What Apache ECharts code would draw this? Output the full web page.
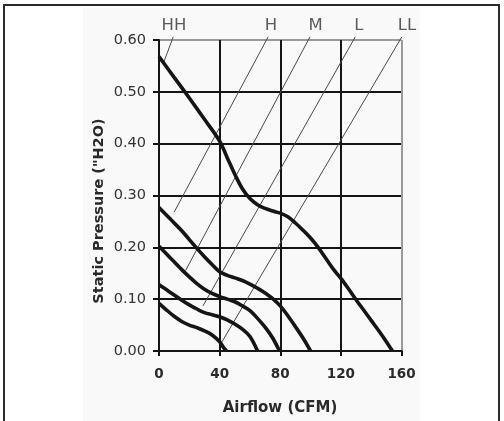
<!DOCTYPE html>
<html><head><meta charset="utf-8">
<script src="https://cdn.jsdelivr.net/npm/echarts@6/dist/echarts.min.js"></script>
<style>html,body{margin:0;padding:0;background:#fff}#c{width:504px;height:421px}</style>
</head><body><div id="c"></div>
<script>
// Axis definitions
const xMin = 0, xMax = 160, xStep = 40;
const yMin = 0, yMax = 0.6, yStep = 0.1;
const xTitle = 'Airflow (CFM)';
const yTitle = 'Static Pressure ("H2O)';

// Fan curves (CFM, inches H2O)
const curveHH = [[0,0.568],[10,0.528],[20,0.488],[30,0.447],[40,0.405],[45,0.373],[50,0.341],[55,0.313],[60,0.294],[65,0.282],[70,0.275],[75,0.27],[80,0.266],[85,0.259],[90,0.247],[95,0.233],[100,0.218],[105,0.2],[110,0.179],[115,0.158],[120,0.14],[125,0.12],[130,0.099],[135,0.079],[140,0.059],[145,0.039],[150,0.018],[154,0]];
const curveH = [[0,0.277],[5,0.262],[10,0.247],[15,0.232],[20,0.215],[25,0.198],[30,0.182],[35,0.167],[40,0.153],[45,0.146],[50,0.141],[55,0.136],[60,0.129],[65,0.121],[70,0.112],[75,0.101],[80,0.087],[85,0.068],[90,0.047],[95,0.025],[100,0]];
const curveM = [[0,0.202],[5,0.187],[10,0.172],[15,0.157],[20,0.143],[25,0.13],[30,0.119],[35,0.111],[40,0.105],[45,0.1],[50,0.095],[55,0.087],[60,0.078],[65,0.063],[70,0.046],[75,0.025],[79.5,0]];
const curveL = [[0,0.128],[5,0.118],[10,0.108],[15,0.098],[20,0.089],[25,0.081],[30,0.074],[35,0.07],[40,0.066],[45,0.06],[50,0.052],[55,0.042],[60,0.028],[65,0]];
const curveLL = [[0,0.092],[5,0.079],[10,0.067],[15,0.057],[20,0.05],[25,0.045],[30,0.039],[35,0.031],[40,0.018],[42.5,0.007],[44.5,0]];

// System / speed reference lines
const sysH = [[72,0.606],[10,0.268]];
const sysM = [[99.6,0.606],[17.5,0.155]];
const sysL = [[129.5,0.606],[29,0.087]];
const sysLL = [[160.2,0.606],[41,0.015]];
const leaderHH = [[9.4,0.606],[3,0.556]];

// Speed labels
const speedNames = ['HH','H','M','L','LL'];
const speedX = [9.9,73.9,103.4,131.8,163.6];
const speedY = 0.628;

const chart = echarts.init(document.getElementById('c'), null, {renderer:'canvas'});
const BLK = '#151515', GRY = '#9a9a9a';
const fanStyle = {color:BLK, width:3.6};
const sysStyle = {color:'#4a4a4a', width:1};

function fan(d){return {type:'line', data:d, smooth:0.35, symbol:'none', lineStyle:fanStyle, clip:false, z:5};}
function sys(d){return {type:'line', data:d, symbol:'none', lineStyle:sysStyle, clip:false, z:4};}

chart.setOption({
  animation:false,
  backgroundColor:'#fff',
  grid:{left:159, right:102.5, top:40, bottom:70, containLabel:false, outerBoundsMode:'none'},
  xAxis:{type:'value', min:xMin, max:xMax, interval:xStep,
    axisLine:{show:true, onZero:false, lineStyle:{color:BLK, width:2}},
    axisTick:{show:true, length:5, lineStyle:{color:BLK, width:2}},
    axisLabel:{margin:16, fontFamily:'DejaVu Sans', fontWeight:'bold', fontSize:13.5, color:'#2a2a2a'},
    splitLine:{show:true, lineStyle:{color:[BLK,BLK,BLK,BLK,GRY], width:2}}},
  yAxis:{type:'value', min:yMin, max:yMax, interval:yStep,
    axisLine:{show:true, onZero:false, lineStyle:{color:BLK, width:2}},
    axisTick:{show:true, length:6, lineStyle:{color:BLK, width:2}},
    axisLabel:{margin:13, fontFamily:'DejaVu Sans', fontSize:14.5, color:'#333', formatter:v=>v.toFixed(2)},
    splitLine:{show:true, lineStyle:{color:[BLK,BLK,BLK,BLK,BLK,BLK,GRY], width:2}}},
  graphic:[
    {type:'rect', z:-10, shape:{x:83, y:8, width:337, height:420}, style:{fill:'#f9f9f9'}},
    {type:'rect', z:100, shape:{x:4, y:5, width:495, height:430}, style:{fill:null, stroke:'#2b2b2b', lineWidth:2}},
    {type:'text', z:100, x:280, y:408, style:{text:xTitle, font:'bold 15px "DejaVu Sans"', fill:'#2a2a2a', textAlign:'center', textVerticalAlign:'middle'}},
    {type:'text', z:100, x:99, y:211, rotation:Math.PI/2, style:{text:yTitle, font:'bold 14.5px "DejaVu Sans"', fill:'#2a2a2a', textAlign:'center', textVerticalAlign:'middle'}}
  ],
  series:[
    sys(sysH), sys(sysM), sys(sysL), sys(sysLL), sys(leaderHH),
    fan(curveHH), fan(curveH), fan(curveM), fan(curveL), fan(curveLL),
    {type:'scatter', clip:false, symbolSize:0, z:6,
      data:speedNames.map((n,i)=>({name:n, value:[speedX[i], speedY]})),
      label:{show:true, position:'inside', formatter:'{b}', fontFamily:'DejaVu Sans', fontSize:16.5, color:'#333'}}
  ]
});
</script></body></html>
